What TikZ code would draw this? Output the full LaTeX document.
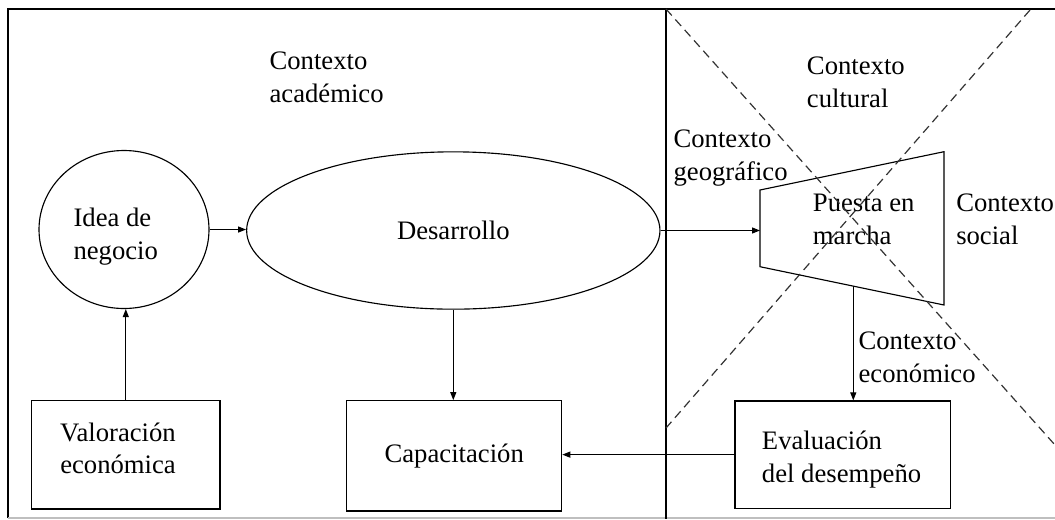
\documentclass[tikz,border=0pt]{standalone}
\usepackage{fontspec}
\setmainfont{Liberation Serif}
\usetikzlibrary{arrows.meta,shapes.geometric,calc}
\begin{document}
\begin{tikzpicture}[x=0.75pt,y=-0.75pt,
  every node/.style={font=\fontsize{20}{24.5}\selectfont, inner sep=0pt},
  lbl/.style={anchor=base west, align=left},
  shp/.style={draw, line width=0.85pt},
  arr/.style={line width=0.85pt, -{Triangle[length=6pt,width=4.5pt]}},
  frm/.style={line width=0.85pt},
  dsh/.style={dash pattern=on 6.5pt off 4pt, line width=0.9pt, black!80}
]
\useasboundingbox (0,0) rectangle (1055,519);
% frame
\coordinate (ftl) at (8,9);
\coordinate (ftr) at (1055,9);
\coordinate (fbl) at (8,518);
\coordinate (fbr) at (1055,518);
\draw[frm] (fbl) -- (ftl) -- (ftr);
\draw[frm, black!25] (fbl) -- (fbr);
\coordinate (dvt) at (666,9);
\coordinate (dvb) at (666,519);
\draw[frm] (dvt) -- (dvb);
% shapes
\node[shp, ellipse, minimum width=127.5pt, minimum height=118.5pt] (idea) at (124,229.5) {};
\node[shp, ellipse, minimum width=310pt, minimum height=118pt] (des) at (453.3,230.5) {Desarrollo};
\node[shp, rectangle, minimum width=141.2pt, minimum height=81.2pt] (val) at (125.8,454.8) {};
\node[shp, rectangle, minimum width=161.25pt, minimum height=82.7pt] (cap) at (454.2,455.8) {Capacitación};
\node[shp, rectangle, minimum width=161.8pt, minimum height=80.5pt] (eva) at (842.8,454.6) {};
\coordinate (ptl) at (760,190);
\coordinate (ptr) at (944,151.7);
\coordinate (pbr) at (944,305);
\coordinate (pbl) at (760,266.7);
\draw[shp] (ptl) -- (ptr) -- (pbr) -- (pbl) -- cycle;
\coordinate (pb) at ($(pbl)!0.507!(pbr)$);
% texts (anchor = baseline of last line)
\node[lbl] (ideat) at (73.3,259.5) {Idea de\\negocio};
\node[anchor=base, align=center] (valt) at (118,473.8) {Valoración\\económica};
\node[lbl] (evat) at (761.7,482) {Evaluación\\del desempeño};
\node[lbl] (puet) at (812.7,244.6) {Puesta en\\marcha};
\node[lbl] (acad) at (269.3,102) {Contexto\\académico};
\node[lbl] (cult) at (806.7,107.5) {Contexto\\cultural};
\node[lbl] (geog) at (673.3,180.5) {Contexto\\geográfico};
\node[lbl] (soci) at (956,244.6) {Contexto\\social};
\node[lbl] (econ) at (858.3,382) {Contexto\\económico};
% dashed cross
\coordinate (x1a) at (666,9);
\coordinate (x1b) at (1055,445);
\coordinate (x2a) at (1030,10);
\coordinate (x2b) at (666,428);
\draw[dsh] (x1a) -- (x1b);
\draw[dsh] (x2a) -- (x2b);
% arrows
\draw[arr] (val.north) -- (val.north |- idea.south);
\draw[arr] (idea.east) -- (idea.east -| des.west);
\draw[arr] (des.south) -- (des.south |- cap.north);
\draw[arr] (des.east) -- (des.east -| ptl);
\draw[arr] (pb) -- (pb |- eva.north);
\draw[arr] (eva.west) -- (eva.west -| cap.east);
\end{tikzpicture}
\end{document}
